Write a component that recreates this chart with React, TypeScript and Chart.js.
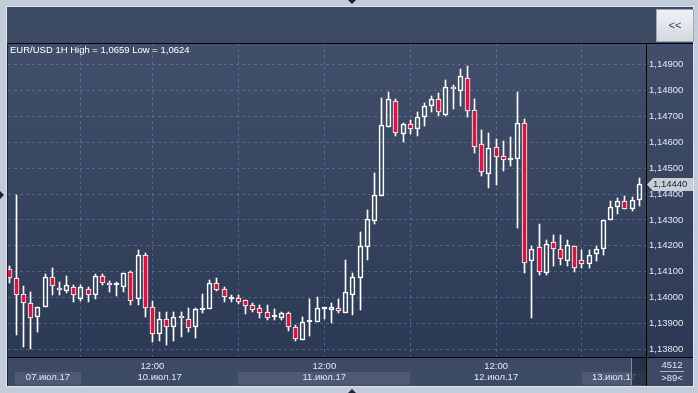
import React, { useEffect, useRef } from 'react';
import { Chart, registerables } from 'chart.js';

Chart.register(...registerables);

const FONT = "'Liberation Sans', Arial, sans-serif";

// ---- data (EUR/USD 1H candles, 89 visible bars) ----
const opens = [
  1.14110, 1.14076, 1.14014, 1.13979, 1.13925, 1.13964, 1.14080, 1.14037, 1.14025, 1.14041,
  1.13995, 1.14033, 1.14010, 1.14083, 1.14056, 1.14047, 1.14041, 1.14099, 1.13995, 1.14164,
  1.13964, 1.13860, 1.13917, 1.13886, 1.13929, 1.13917, 1.13886, 1.13954, 1.13956, 1.14056,
  1.14033, 1.13996, 1.13998, 1.13991, 1.13971, 1.13960, 1.13944, 1.13924, 1.13921, 1.13941,
  1.13886, 1.13836, 1.13905, 1.13906, 1.13957, 1.13952, 1.13960, 1.13942, 1.14010, 1.14077,
  1.14197, 1.14297, 1.14393, 1.14660, 1.14759, 1.14632, 1.14670, 1.14651, 1.14697, 1.14740,
  1.14767, 1.14705, 1.14813, 1.14798, 1.14848, 1.14724, 1.14593, 1.14477, 1.14581, 1.14545,
  1.14530, 1.14535, 1.14674, 1.14141, 1.14195, 1.14095, 1.14215, 1.14188, 1.14141, 1.14199,
  1.14145, 1.14130, 1.14168, 1.14188, 1.14300, 1.14350, 1.14373, 1.14342, 1.14377,
];
const highs = [
  1.14122, 1.14396, 1.14045, 1.14022, 1.13964, 1.14091, 1.14114, 1.14060, 1.14083, 1.14049,
  1.14049, 1.14041, 1.14091, 1.14091, 1.14064, 1.14060, 1.14095, 1.14103, 1.14184, 1.14172,
  1.13987, 1.13944, 1.13944, 1.13944, 1.13944, 1.13960, 1.13960, 1.14014, 1.14068, 1.14076,
  1.14041, 1.14010, 1.14010, 1.13991, 1.13979, 1.13971, 1.13971, 1.13956, 1.13944, 1.13944,
  1.13894, 1.13925, 1.13995, 1.14004, 1.13965, 1.13980, 1.13995, 1.14145, 1.14096, 1.14254,
  1.14338, 1.14481, 1.14771, 1.14794, 1.14767, 1.14674, 1.14684, 1.14717, 1.14751, 1.14778,
  1.14790, 1.14840, 1.14821, 1.14883, 1.14894, 1.14767, 1.14647, 1.14636, 1.14612, 1.14605,
  1.14620, 1.14794, 1.14690, 1.14199, 1.14284, 1.14222, 1.14242, 1.14242, 1.14222, 1.14199,
  1.14184, 1.14184, 1.14199, 1.14300, 1.14373, 1.14385, 1.14392, 1.14388, 1.14462,
];
const lows = [
  1.14056, 1.13856, 1.13809, 1.13802, 1.13867, 1.13964, 1.14010, 1.14010, 1.14018, 1.13983,
  1.13987, 1.13983, 1.13995, 1.14049, 1.14022, 1.14006, 1.14022, 1.13971, 1.13971, 1.13925,
  1.13829, 1.13832, 1.13817, 1.13832, 1.13848, 1.13867, 1.13844, 1.13941, 1.13956, 1.14025,
  1.13983, 1.13983, 1.13975, 1.13937, 1.13944, 1.13921, 1.13914, 1.13914, 1.13914, 1.13871,
  1.13832, 1.13836, 1.13852, 1.13906, 1.13917, 1.13903, 1.13942, 1.13942, 1.13933, 1.13952,
  1.14145, 1.14284, 1.14393, 1.14660, 1.14624, 1.14601, 1.14630, 1.14624, 1.14663, 1.14717,
  1.14701, 1.14701, 1.14728, 1.14740, 1.14697, 1.14558, 1.14470, 1.14423, 1.14435, 1.14489,
  1.14508, 1.14267, 1.14095, 1.13921, 1.14087, 1.14087, 1.14122, 1.14126, 1.14122, 1.14099,
  1.14114, 1.14114, 1.14141, 1.14164, 1.14300, 1.14323, 1.14342, 1.14334, 1.14354,
];
const closes = [
  1.14076, 1.14010, 1.13979, 1.13921, 1.13964, 1.14080, 1.14045, 1.14030, 1.14049, 1.14010,
  1.14041, 1.14010, 1.14083, 1.14056, 1.14049, 1.14049, 1.14095, 1.13987, 1.14164, 1.13960,
  1.13860, 1.13917, 1.13886, 1.13925, 1.13921, 1.13883, 1.13956, 1.13956, 1.14056, 1.14029,
  1.14002, 1.13997, 1.13983, 1.13968, 1.13952, 1.13941, 1.13921, 1.13925, 1.13941, 1.13886,
  1.13840, 1.13906, 1.13906, 1.13962, 1.13958, 1.13964, 1.13950, 1.14022, 1.14080, 1.14199,
  1.14303, 1.14396, 1.14666, 1.14767, 1.14636, 1.14670, 1.14651, 1.14699, 1.14740, 1.14767,
  1.14717, 1.14813, 1.14805, 1.14856, 1.14720, 1.14581, 1.14485, 1.14578, 1.14543, 1.14531,
  1.14531, 1.14674, 1.14134, 1.14188, 1.14099, 1.14207, 1.14188, 1.14149, 1.14203, 1.14114,
  1.14130, 1.14164, 1.14188, 1.14300, 1.14350, 1.14373, 1.14342, 1.14377, 1.14440,
];

const yTicks = [1.138, 1.139, 1.140, 1.141, 1.142, 1.143, 1.144, 1.145, 1.146, 1.147, 1.148, 1.149];
const yMin = 1.13771;
const yMax = 1.14983;
const xMin = -0.18;
const xMax = 88.94;
const gridIdx = [10, 20, 32, 44, 56, 68, 80];
const noonIdx = [20, 44, 68];
const noonLabels = ['12:00', '12:00', '12:00'];
const dayBounds = [0.8, 10, 32, 56, 80, 88.94];
const dayLabels = ['07.июл.17', '10.июл.17', '11.июл.17', '12.июл.17', '13.июл.17'];
const titleText = 'EUR/USD 1H High = 1,0659 Low = 1,0624';
const barsTotal = '4512';
const barsVisible = '>89<';
const buttonText = '<<';

const RED = '#e2123f';
const GRID = 'rgba(140,156,184,0.38)';

function fmt(v: number) {
  return v.toFixed(5).replace('.', ',');
}

export default function App() {
  const ref = useRef<HTMLCanvasElement>(null);

  useEffect(() => {
    document.body.style.margin = '0';
    const canvas = ref.current!;
    const idx = opens.map((_, i) => i);
    const lowerWick = idx.map((i) => ({ x: i, y: [lows[i], Math.min(opens[i], closes[i])] }));
    const upperWick = idx.map((i) => ({ x: i, y: [Math.max(opens[i], closes[i]), highs[i]] }));
    const bodies = idx.map((i) => ({ x: i, y: [opens[i], closes[i]] }));
    const bodyColors = idx.map((i) => (closes[i] < opens[i] ? RED : 'rgba(0,0,0,0)'));

    const snapPlugin = {
      id: 'snap',
      beforeDatasetsDraw(chart: any) {
        chart.data.datasets.forEach((_: any, di: number) => {
          chart.getDatasetMeta(di).data.forEach((el: any) => {
            el.x = Math.floor(el.x) + 0.5;
            el.y = Math.round(el.y);
            el.base = Math.round(el.base);
          });
        });
      },
    };

    const framePlugin = {
      id: 'frame',
      beforeDraw(chart: any) {
        const c = chart.ctx;
        const a = chart.chartArea;
        const xs = chart.scales.x;
        c.save();
        c.fillStyle = '#c3cdd9';
        c.fillRect(0, 0, 698, 393);
        c.fillStyle = '#dfe5ec';
        c.fillRect(6, 6, 688, 381);
        c.fillStyle = '#3e4b65';
        c.fillRect(7, 7, 686, 36);
        const g = c.createLinearGradient(0, a.top, 0, a.bottom);
        g.addColorStop(0, '#414f6b');
        g.addColorStop(1, '#2c3955');
        c.fillStyle = g;
        c.fillRect(7, a.top, 686, a.bottom - a.top);
        c.fillStyle = '#3d4a66';
        c.fillRect(7, a.bottom, 686, 386 - a.bottom);
        for (let d = 0; d < dayLabels.length; d += 2) {
          const x0 = Math.round(xs.getPixelForValue(dayBounds[d]));
          const x1 = Math.round(Math.min(xs.getPixelForValue(dayBounds[d + 1]), a.right));
          c.fillStyle = '#4e5a75';
          c.fillRect(x0, 372, x1 - x0, 13);
        }
        c.restore();
      },
      afterDraw(chart: any) {
        const c = chart.ctx;
        const a = chart.chartArea;
        const xs = chart.scales.x;
        const ys = chart.scales.y;
        c.save();

        // title
        c.font = `9.5px ${FONT}`;
        c.fillStyle = '#ffffff';
        c.textBaseline = 'middle';
        c.textAlign = 'left';
        c.fillText(titleText, 10, 50);

        // x labels
        c.fillStyle = '#e2e7ef';
        c.textAlign = 'center';
        noonIdx.forEach((v, k) => {
          c.fillText(noonLabels[k], xs.getPixelForValue(v), 366);
        });
        for (let d = 0; d < dayLabels.length; d++) {
          const x0 = xs.getPixelForValue(dayBounds[d]);
          const x1 = Math.min(xs.getPixelForValue(dayBounds[d + 1]), a.right);
          c.fillText(dayLabels[d], (x0 + x1) / 2, 377.5);
        }

        // scrollbar handle (translucent)
        c.fillStyle = 'rgba(30,40,60,0.72)';
        c.fillRect(631, a.bottom + 1, 15, 386 - a.bottom - 2);
        c.fillStyle = '#7f8ba0';
        c.fillRect(631, a.bottom + 1, 1, 386 - a.bottom - 2);

        // black separators
        c.strokeStyle = '#000000';
        c.lineWidth = 1;
        c.beginPath();
        c.moveTo(7, a.top + 0.5);
        c.lineTo(693, a.top + 0.5);
        c.moveTo(7, a.bottom + 0.5);
        c.lineTo(693, a.bottom + 0.5);
        c.moveTo(a.right + 0.5, a.top);
        c.lineTo(a.right + 0.5, 386);
        c.stroke();
        c.strokeStyle = '#1b2435';
        c.beginPath();
        c.moveTo(7.5, a.top);
        c.lineTo(7.5, 386);
        c.stroke();

        // bottom-right counters
        c.font = `9.5px ${FONT}`;
        c.fillStyle = '#e2e7ef';
        c.textAlign = 'center';
        c.fillText(barsTotal, 672, 365);
        c.fillText(barsVisible, 672, 378.5);
        c.fillStyle = '#aab4c4';
        c.fillRect(660, 371, 24, 1);

        // last price tag
        const last = closes[closes.length - 1];
        const py = Math.round(ys.getPixelForValue(last));
        c.fillStyle = '#c9ced6';
        c.beginPath();
        c.moveTo(647, py + 0.5);
        c.lineTo(653, py - 6);
        c.lineTo(693, py - 6);
        c.lineTo(693, py + 7);
        c.lineTo(653, py + 7);
        c.closePath();
        c.fill();
        c.fillStyle = '#1a2030';
        c.textAlign = 'left';
        c.fillText(fmt(last), 653, py + 0.5);

        // << button
        const bg = c.createLinearGradient(0, 9, 0, 42);
        bg.addColorStop(0, '#f0f2f5');
        bg.addColorStop(1, '#d3d8e0');
        c.fillStyle = bg;
        c.fillRect(656, 9, 38, 33);
        c.strokeStyle = '#9ea8b8';
        c.strokeRect(656.5, 9.5, 37, 32);
        c.font = `11px ${FONT}`;
        c.fillStyle = '#2a3c70';
        c.textAlign = 'center';
        c.fillText(buttonText, 675, 25.5);

        // small arrows
        c.fillStyle = '#1d2535';
        c.beginPath();
        c.moveTo(348, 0);
        c.lineTo(356, 0);
        c.lineTo(352, 4);
        c.closePath();
        c.fill();
        c.beginPath();
        c.moveTo(348, 393);
        c.lineTo(356, 393);
        c.lineTo(352, 389);
        c.closePath();
        c.fill();
        c.beginPath();
        c.moveTo(0, 191);
        c.lineTo(0, 199);
        c.lineTo(4, 195);
        c.closePath();
        c.fill();
        c.restore();
      },
    };

    const chart = new Chart(canvas, {
      type: 'bar',
      data: {
        datasets: [
          {
            label: 'lower wick',
            data: lowerWick as any,
            backgroundColor: '#ffffff',
            borderWidth: 0,
            barThickness: 1,
            grouped: false,
          } as any,
          {
            label: 'upper wick',
            data: upperWick as any,
            backgroundColor: '#ffffff',
            borderWidth: 0,
            barThickness: 1,
            grouped: false,
          } as any,
          {
            label: 'body',
            data: bodies as any,
            backgroundColor: bodyColors,
            borderColor: '#ffffff',
            borderWidth: 1,
            borderSkipped: false,
            barThickness: 5,
            minBarLength: 2,
            grouped: false,
          } as any,
        ],
      },
      options: {
        responsive: false,
        animation: false,
        devicePixelRatio: 1,
        layout: { padding: { left: 8, top: 43, right: 0, bottom: 36 } },
        plugins: { legend: { display: false }, tooltip: { enabled: false } },
        scales: {
          x: {
            type: 'linear',
            offset: false,
            min: xMin,
            max: xMax,
            afterBuildTicks: (s: any) => {
              s.ticks = gridIdx.map((v) => ({ value: v }));
            },
            afterFit: (s: any) => {
              s.height = 0;
            },
            ticks: { display: false },
            grid: { color: GRID, drawTicks: false, lineWidth: 1, offset: false },
            border: { display: false, dash: [3, 3] },
          },
          y: {
            type: 'linear',
            position: 'right',
            min: yMin,
            max: yMax,
            afterBuildTicks: (s: any) => {
              s.ticks = yTicks.map((v) => ({ value: v }));
            },
            afterFit: (s: any) => {
              s.width = 52;
            },
            ticks: {
              color: '#e2e7ef',
              padding: 3,
              font: { family: FONT, size: 9.5 },
              callback: (v: any) => fmt(Number(v)),
            },
            grid: { color: GRID, drawTicks: false, lineWidth: 1 },
            border: { display: false, dash: [3, 3] },
          },
        },
      } as any,
      plugins: [snapPlugin, framePlugin],
    });
    return () => chart.destroy();
  }, []);

  return (
    <div style={{ width: 698, height: 393 }}>
      <canvas ref={ref} width={698} height={393} style={{ display: 'block' }} />
    </div>
  );
}
